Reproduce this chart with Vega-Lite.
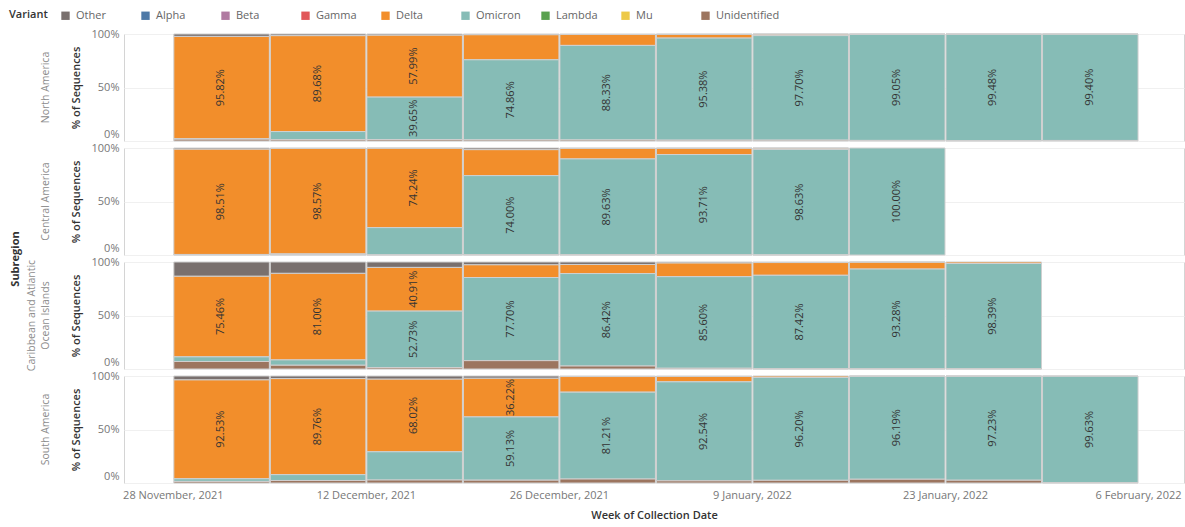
{
  "$schema": "https://vega.github.io/schema/vega-lite/v6.json",
  "padding": {"left": 9, "top": 10, "right": 0, "bottom": 4},
  "background": "white",
  "bounds": "flush",
  "datasets": {
    "variants": [
      {"variant": "Unidentified", "rank": 1},
      {"variant": "Mu", "rank": 2},
      {"variant": "Lambda", "rank": 3},
      {"variant": "Omicron", "rank": 4},
      {"variant": "Delta", "rank": 5},
      {"variant": "Gamma", "rank": 6},
      {"variant": "Beta", "rank": 7},
      {"variant": "Alpha", "rank": 8},
      {"variant": "Other", "rank": 9}
    ]
  },
  "data": {"values": [
    {"subregion": "North America", "week": "2021-11-28", "variant": "Delta", "pct": 0.9582},
    {"subregion": "North America", "week": "2021-11-28", "variant": "Omicron", "pct": 0.0028},
    {"subregion": "North America", "week": "2021-11-28", "variant": "Other", "pct": 0.0220},
    {"subregion": "North America", "week": "2021-11-28", "variant": "Unidentified", "pct": 0.0170},
    {"subregion": "North America", "week": "2021-12-05", "variant": "Delta", "pct": 0.8968},
    {"subregion": "North America", "week": "2021-12-05", "variant": "Omicron", "pct": 0.0760},
    {"subregion": "North America", "week": "2021-12-05", "variant": "Other", "pct": 0.0150},
    {"subregion": "North America", "week": "2021-12-05", "variant": "Unidentified", "pct": 0.0122},
    {"subregion": "North America", "week": "2021-12-12", "variant": "Delta", "pct": 0.5799},
    {"subregion": "North America", "week": "2021-12-12", "variant": "Omicron", "pct": 0.3965},
    {"subregion": "North America", "week": "2021-12-12", "variant": "Other", "pct": 0.0100},
    {"subregion": "North America", "week": "2021-12-12", "variant": "Unidentified", "pct": 0.0136},
    {"subregion": "North America", "week": "2021-12-19", "variant": "Delta", "pct": 0.2350},
    {"subregion": "North America", "week": "2021-12-19", "variant": "Omicron", "pct": 0.7486},
    {"subregion": "North America", "week": "2021-12-19", "variant": "Other", "pct": 0.0060},
    {"subregion": "North America", "week": "2021-12-19", "variant": "Unidentified", "pct": 0.0104},
    {"subregion": "North America", "week": "2021-12-26", "variant": "Delta", "pct": 0.1020},
    {"subregion": "North America", "week": "2021-12-26", "variant": "Omicron", "pct": 0.8833},
    {"subregion": "North America", "week": "2021-12-26", "variant": "Other", "pct": 0.0047},
    {"subregion": "North America", "week": "2021-12-26", "variant": "Unidentified", "pct": 0.0100},
    {"subregion": "North America", "week": "2022-01-02", "variant": "Delta", "pct": 0.0352},
    {"subregion": "North America", "week": "2022-01-02", "variant": "Omicron", "pct": 0.9538},
    {"subregion": "North America", "week": "2022-01-02", "variant": "Other", "pct": 0.0030},
    {"subregion": "North America", "week": "2022-01-02", "variant": "Unidentified", "pct": 0.0080},
    {"subregion": "North America", "week": "2022-01-09", "variant": "Delta", "pct": 0.0140},
    {"subregion": "North America", "week": "2022-01-09", "variant": "Omicron", "pct": 0.9770},
    {"subregion": "North America", "week": "2022-01-09", "variant": "Other", "pct": 0.0010},
    {"subregion": "North America", "week": "2022-01-09", "variant": "Unidentified", "pct": 0.0080},
    {"subregion": "North America", "week": "2022-01-16", "variant": "Delta", "pct": 0.0035},
    {"subregion": "North America", "week": "2022-01-16", "variant": "Omicron", "pct": 0.9905},
    {"subregion": "North America", "week": "2022-01-16", "variant": "Other", "pct": 0.0005},
    {"subregion": "North America", "week": "2022-01-16", "variant": "Unidentified", "pct": 0.0055},
    {"subregion": "North America", "week": "2022-01-23", "variant": "Delta", "pct": 0.0010},
    {"subregion": "North America", "week": "2022-01-23", "variant": "Omicron", "pct": 0.9948},
    {"subregion": "North America", "week": "2022-01-23", "variant": "Other", "pct": 0.0007},
    {"subregion": "North America", "week": "2022-01-23", "variant": "Unidentified", "pct": 0.0035},
    {"subregion": "North America", "week": "2022-01-30", "variant": "Delta", "pct": 0.0005},
    {"subregion": "North America", "week": "2022-01-30", "variant": "Omicron", "pct": 0.9940},
    {"subregion": "North America", "week": "2022-01-30", "variant": "Other", "pct": 0.0005},
    {"subregion": "North America", "week": "2022-01-30", "variant": "Unidentified", "pct": 0.0050},

    {"subregion": "Central America", "week": "2021-11-28", "variant": "Delta", "pct": 0.9851},
    {"subregion": "Central America", "week": "2021-11-28", "variant": "Omicron", "pct": 0.0020},
    {"subregion": "Central America", "week": "2021-11-28", "variant": "Other", "pct": 0.0099},
    {"subregion": "Central America", "week": "2021-11-28", "variant": "Unidentified", "pct": 0.0030},
    {"subregion": "Central America", "week": "2021-12-05", "variant": "Delta", "pct": 0.9857},
    {"subregion": "Central America", "week": "2021-12-05", "variant": "Omicron", "pct": 0.0080},
    {"subregion": "Central America", "week": "2021-12-05", "variant": "Other", "pct": 0.0040},
    {"subregion": "Central America", "week": "2021-12-05", "variant": "Unidentified", "pct": 0.0023},
    {"subregion": "Central America", "week": "2021-12-12", "variant": "Delta", "pct": 0.7424},
    {"subregion": "Central America", "week": "2021-12-12", "variant": "Omicron", "pct": 0.2550},
    {"subregion": "Central America", "week": "2021-12-12", "variant": "Other", "pct": 0.0016},
    {"subregion": "Central America", "week": "2021-12-12", "variant": "Unidentified", "pct": 0.0010},
    {"subregion": "Central America", "week": "2021-12-19", "variant": "Delta", "pct": 0.2430},
    {"subregion": "Central America", "week": "2021-12-19", "variant": "Omicron", "pct": 0.7400},
    {"subregion": "Central America", "week": "2021-12-19", "variant": "Other", "pct": 0.0150},
    {"subregion": "Central America", "week": "2021-12-19", "variant": "Unidentified", "pct": 0.0020},
    {"subregion": "Central America", "week": "2021-12-26", "variant": "Delta", "pct": 0.0990},
    {"subregion": "Central America", "week": "2021-12-26", "variant": "Omicron", "pct": 0.8963},
    {"subregion": "Central America", "week": "2021-12-26", "variant": "Other", "pct": 0.0030},
    {"subregion": "Central America", "week": "2021-12-26", "variant": "Unidentified", "pct": 0.0017},
    {"subregion": "Central America", "week": "2022-01-02", "variant": "Delta", "pct": 0.0590},
    {"subregion": "Central America", "week": "2022-01-02", "variant": "Omicron", "pct": 0.9371},
    {"subregion": "Central America", "week": "2022-01-02", "variant": "Other", "pct": 0.0020},
    {"subregion": "Central America", "week": "2022-01-02", "variant": "Unidentified", "pct": 0.0019},
    {"subregion": "Central America", "week": "2022-01-09", "variant": "Delta", "pct": 0.0120},
    {"subregion": "Central America", "week": "2022-01-09", "variant": "Omicron", "pct": 0.9863},
    {"subregion": "Central America", "week": "2022-01-09", "variant": "Other", "pct": 0.0010},
    {"subregion": "Central America", "week": "2022-01-09", "variant": "Unidentified", "pct": 0.0007},
    {"subregion": "Central America", "week": "2022-01-16", "variant": "Omicron", "pct": 1.0},

    {"subregion": "Caribbean and Atlantic Ocean Islands", "week": "2021-11-28", "variant": "Delta", "pct": 0.7546},
    {"subregion": "Caribbean and Atlantic Ocean Islands", "week": "2021-11-28", "variant": "Omicron", "pct": 0.0434},
    {"subregion": "Caribbean and Atlantic Ocean Islands", "week": "2021-11-28", "variant": "Other", "pct": 0.1320},
    {"subregion": "Caribbean and Atlantic Ocean Islands", "week": "2021-11-28", "variant": "Unidentified", "pct": 0.0700},
    {"subregion": "Caribbean and Atlantic Ocean Islands", "week": "2021-12-05", "variant": "Delta", "pct": 0.8100},
    {"subregion": "Caribbean and Atlantic Ocean Islands", "week": "2021-12-05", "variant": "Omicron", "pct": 0.0500},
    {"subregion": "Caribbean and Atlantic Ocean Islands", "week": "2021-12-05", "variant": "Other", "pct": 0.1050},
    {"subregion": "Caribbean and Atlantic Ocean Islands", "week": "2021-12-05", "variant": "Unidentified", "pct": 0.0350},
    {"subregion": "Caribbean and Atlantic Ocean Islands", "week": "2021-12-12", "variant": "Delta", "pct": 0.4091},
    {"subregion": "Caribbean and Atlantic Ocean Islands", "week": "2021-12-12", "variant": "Omicron", "pct": 0.5273},
    {"subregion": "Caribbean and Atlantic Ocean Islands", "week": "2021-12-12", "variant": "Other", "pct": 0.0500},
    {"subregion": "Caribbean and Atlantic Ocean Islands", "week": "2021-12-12", "variant": "Unidentified", "pct": 0.0136},
    {"subregion": "Caribbean and Atlantic Ocean Islands", "week": "2021-12-19", "variant": "Delta", "pct": 0.1200},
    {"subregion": "Caribbean and Atlantic Ocean Islands", "week": "2021-12-19", "variant": "Omicron", "pct": 0.7770},
    {"subregion": "Caribbean and Atlantic Ocean Islands", "week": "2021-12-19", "variant": "Other", "pct": 0.0250},
    {"subregion": "Caribbean and Atlantic Ocean Islands", "week": "2021-12-19", "variant": "Unidentified", "pct": 0.0780},
    {"subregion": "Caribbean and Atlantic Ocean Islands", "week": "2021-12-26", "variant": "Delta", "pct": 0.0850},
    {"subregion": "Caribbean and Atlantic Ocean Islands", "week": "2021-12-26", "variant": "Omicron", "pct": 0.8642},
    {"subregion": "Caribbean and Atlantic Ocean Islands", "week": "2021-12-26", "variant": "Other", "pct": 0.0230},
    {"subregion": "Caribbean and Atlantic Ocean Islands", "week": "2021-12-26", "variant": "Unidentified", "pct": 0.0278},
    {"subregion": "Caribbean and Atlantic Ocean Islands", "week": "2022-01-02", "variant": "Delta", "pct": 0.1290},
    {"subregion": "Caribbean and Atlantic Ocean Islands", "week": "2022-01-02", "variant": "Omicron", "pct": 0.8560},
    {"subregion": "Caribbean and Atlantic Ocean Islands", "week": "2022-01-02", "variant": "Other", "pct": 0.0080},
    {"subregion": "Caribbean and Atlantic Ocean Islands", "week": "2022-01-02", "variant": "Unidentified", "pct": 0.0070},
    {"subregion": "Caribbean and Atlantic Ocean Islands", "week": "2022-01-09", "variant": "Delta", "pct": 0.1190},
    {"subregion": "Caribbean and Atlantic Ocean Islands", "week": "2022-01-09", "variant": "Omicron", "pct": 0.8742},
    {"subregion": "Caribbean and Atlantic Ocean Islands", "week": "2022-01-09", "variant": "Other", "pct": 0.0050},
    {"subregion": "Caribbean and Atlantic Ocean Islands", "week": "2022-01-09", "variant": "Unidentified", "pct": 0.0018},
    {"subregion": "Caribbean and Atlantic Ocean Islands", "week": "2022-01-16", "variant": "Delta", "pct": 0.0650},
    {"subregion": "Caribbean and Atlantic Ocean Islands", "week": "2022-01-16", "variant": "Omicron", "pct": 0.9328},
    {"subregion": "Caribbean and Atlantic Ocean Islands", "week": "2022-01-16", "variant": "Other", "pct": 0.0010},
    {"subregion": "Caribbean and Atlantic Ocean Islands", "week": "2022-01-16", "variant": "Unidentified", "pct": 0.0012},
    {"subregion": "Caribbean and Atlantic Ocean Islands", "week": "2022-01-23", "variant": "Delta", "pct": 0.0141},
    {"subregion": "Caribbean and Atlantic Ocean Islands", "week": "2022-01-23", "variant": "Omicron", "pct": 0.9839},
    {"subregion": "Caribbean and Atlantic Ocean Islands", "week": "2022-01-23", "variant": "Unidentified", "pct": 0.0020},

    {"subregion": "South America", "week": "2021-11-28", "variant": "Delta", "pct": 0.9253},
    {"subregion": "South America", "week": "2021-11-28", "variant": "Omicron", "pct": 0.0250},
    {"subregion": "South America", "week": "2021-11-28", "variant": "Other", "pct": 0.0350},
    {"subregion": "South America", "week": "2021-11-28", "variant": "Unidentified", "pct": 0.0147},
    {"subregion": "South America", "week": "2021-12-05", "variant": "Delta", "pct": 0.8976},
    {"subregion": "South America", "week": "2021-12-05", "variant": "Omicron", "pct": 0.0550},
    {"subregion": "South America", "week": "2021-12-05", "variant": "Other", "pct": 0.0240},
    {"subregion": "South America", "week": "2021-12-05", "variant": "Unidentified", "pct": 0.0234},
    {"subregion": "South America", "week": "2021-12-12", "variant": "Delta", "pct": 0.6802},
    {"subregion": "South America", "week": "2021-12-12", "variant": "Omicron", "pct": 0.2640},
    {"subregion": "South America", "week": "2021-12-12", "variant": "Other", "pct": 0.0280},
    {"subregion": "South America", "week": "2021-12-12", "variant": "Unidentified", "pct": 0.0278},
    {"subregion": "South America", "week": "2021-12-19", "variant": "Delta", "pct": 0.3622},
    {"subregion": "South America", "week": "2021-12-19", "variant": "Omicron", "pct": 0.5913},
    {"subregion": "South America", "week": "2021-12-19", "variant": "Other", "pct": 0.0200},
    {"subregion": "South America", "week": "2021-12-19", "variant": "Unidentified", "pct": 0.0265},
    {"subregion": "South America", "week": "2021-12-26", "variant": "Delta", "pct": 0.1460},
    {"subregion": "South America", "week": "2021-12-26", "variant": "Omicron", "pct": 0.8121},
    {"subregion": "South America", "week": "2021-12-26", "variant": "Other", "pct": 0.0049},
    {"subregion": "South America", "week": "2021-12-26", "variant": "Unidentified", "pct": 0.0370},
    {"subregion": "South America", "week": "2022-01-02", "variant": "Delta", "pct": 0.0500},
    {"subregion": "South America", "week": "2022-01-02", "variant": "Omicron", "pct": 0.9254},
    {"subregion": "South America", "week": "2022-01-02", "variant": "Other", "pct": 0.0046},
    {"subregion": "South America", "week": "2022-01-02", "variant": "Unidentified", "pct": 0.0200},
    {"subregion": "South America", "week": "2022-01-09", "variant": "Delta", "pct": 0.0130},
    {"subregion": "South America", "week": "2022-01-09", "variant": "Omicron", "pct": 0.9620},
    {"subregion": "South America", "week": "2022-01-09", "variant": "Unidentified", "pct": 0.0250},
    {"subregion": "South America", "week": "2022-01-16", "variant": "Delta", "pct": 0.0020},
    {"subregion": "South America", "week": "2022-01-16", "variant": "Omicron", "pct": 0.9619},
    {"subregion": "South America", "week": "2022-01-16", "variant": "Other", "pct": 0.0011},
    {"subregion": "South America", "week": "2022-01-16", "variant": "Unidentified", "pct": 0.0350},
    {"subregion": "South America", "week": "2022-01-23", "variant": "Delta", "pct": 0.0010},
    {"subregion": "South America", "week": "2022-01-23", "variant": "Omicron", "pct": 0.9723},
    {"subregion": "South America", "week": "2022-01-23", "variant": "Other", "pct": 0.0007},
    {"subregion": "South America", "week": "2022-01-23", "variant": "Unidentified", "pct": 0.0260},
    {"subregion": "South America", "week": "2022-01-30", "variant": "Omicron", "pct": 0.9963},
    {"subregion": "South America", "week": "2022-01-30", "variant": "Other", "pct": 0.0007},
    {"subregion": "South America", "week": "2022-01-30", "variant": "Unidentified", "pct": 0.0030}
  ]},
  "transform": [
    {"lookup": "variant", "from": {"data": {"name": "variants"}, "key": "variant", "fields": ["rank"]}}
  ],
  "facet": {
    "row": {
      "field": "subregion",
      "type": "nominal",
      "sort": ["North America", "Central America", "Caribbean and Atlantic Ocean Islands", "South America"],
      "title": "Subregion",
      "header": {
        "labelAngle": -90,
        "labelColor": "#8c8c8c",
        "labelFontSize": 10.5,
        "labelPadding": 14,
        "labelLineHeight": 14,
        "labelExpr": "datum.value == 'Caribbean and Atlantic Ocean Islands' ? ['Caribbean and Atlantic', 'Ocean Islands'] : datum.value",
        "titleFontSize": 11,
        "titleFontWeight": "bold",
        "titleColor": "#333333",
        "titlePadding": -5
      }
    }
  },
  "spacing": 7,
  "spec": {
    "width": 1060,
    "height": 107,
    "encoding": {
      "x": {
        "field": "week",
        "timeUnit": "utcyearweek",
        "type": "temporal",
        "title": "Week of Collection Date",
        "scale": {"domain": [
          {"year": 2021, "month": 11, "date": 24, "hours": 11, "utc": true},
          {"year": 2022, "month": 2, "date": 9, "hours": 8, "utc": true}
        ]},
        "axis": {
          "values": [
            {"year": 2021, "month": 11, "date": 28, "utc": true},
            {"year": 2021, "month": 12, "date": 12, "utc": true},
            {"year": 2021, "month": 12, "date": 26, "utc": true},
            {"year": 2022, "month": 1, "date": 9, "utc": true},
            {"year": 2022, "month": 1, "date": 23, "utc": true},
            {"year": 2022, "month": 2, "date": 6, "utc": true}
          ],
          "format": "%-d %B, %Y",
          "grid": false,
          "ticks": false,
          "domain": false,
          "labelPadding": 6,
          "labelFlush": false,
          "titlePadding": 9
        }
      },
      "y": {
        "field": "pct",
        "type": "quantitative",
        "stack": "zero",
        "title": "% of Sequences",
        "scale": {"domain": [0, 1], "nice": false},
        "axis": {
          "values": [0, 0.5, 1],
          "format": ".0%",
          "grid": true,
          "gridColor": "#f0f0f0",
          "ticks": false,
          "domain": false,
          "labelPadding": 5,
          "titlePadding": 10,
          "labelFlush": false,
          "labelBaseline": "middle",
          "labelOffset": {"condition": {"test": "datum.value == 0", "value": -7}, "value": 0}
        }
      },
      "order": {"field": "rank", "type": "quantitative", "sort": "ascending"}
    },
    "layer": [
      {
        "mark": {"type": "bar", "stroke": "#d0d0d0", "strokeWidth": 1},
        "encoding": {
          "color": {
            "field": "variant",
            "type": "nominal",
            "title": "Variant",
            "scale": {
              "domain": ["Other", "Alpha", "Beta", "Gamma", "Delta", "Omicron", "Lambda", "Mu", "Unidentified"],
              "range": ["#79706e", "#4e79a7", "#b07aa1", "#e15759", "#f28e2b", "#86bcb6", "#59a14f", "#edc948", "#9c755f"]
            },
            "legend": {
              "orient": "none",
              "legendX": -115,
              "legendY": -24,
              "direction": "horizontal",
              "titleOrient": "left",
              "titleFontSize": 11,
              "titleFontWeight": 600,
              "titleColor": "#333333",
              "titlePadding": 12,
              "labelFontSize": 11,
              "labelColor": "#666666",
              "symbolType": "square",
              "symbolSize": 70,
              "symbolStrokeWidth": 0,
              "labelOffset": 5,
              "gridAlign": "all",
              "columnPadding": -1
            }
          }
        }
      },
      {
        "mark": {"type": "text", "angle": 270, "fontSize": 11, "color": "#333333"},
        "encoding": {
          "x": {"field": "week", "timeUnit": "utcyearweek", "type": "temporal", "bandPosition": 0.5},
          "y": {"field": "pct", "type": "quantitative", "stack": "zero", "bandPosition": 0.5},
          "detail": {"field": "variant", "type": "nominal"},
          "text": {
            "condition": {"test": "datum.pct >= 0.3", "field": "pct", "type": "quantitative", "format": ".2%"},
            "value": ""
          }
        }
      }
    ]
  },
  "config": {
    "font": "Open Sans",
    "view": {"stroke": "#d4d4d4"},
    "axis": {
      "labelColor": "#777777",
      "labelFontSize": 11,
      "titleColor": "#333333",
      "titleFontSize": 11,
      "titleFontWeight": 600
    }
  }
}
